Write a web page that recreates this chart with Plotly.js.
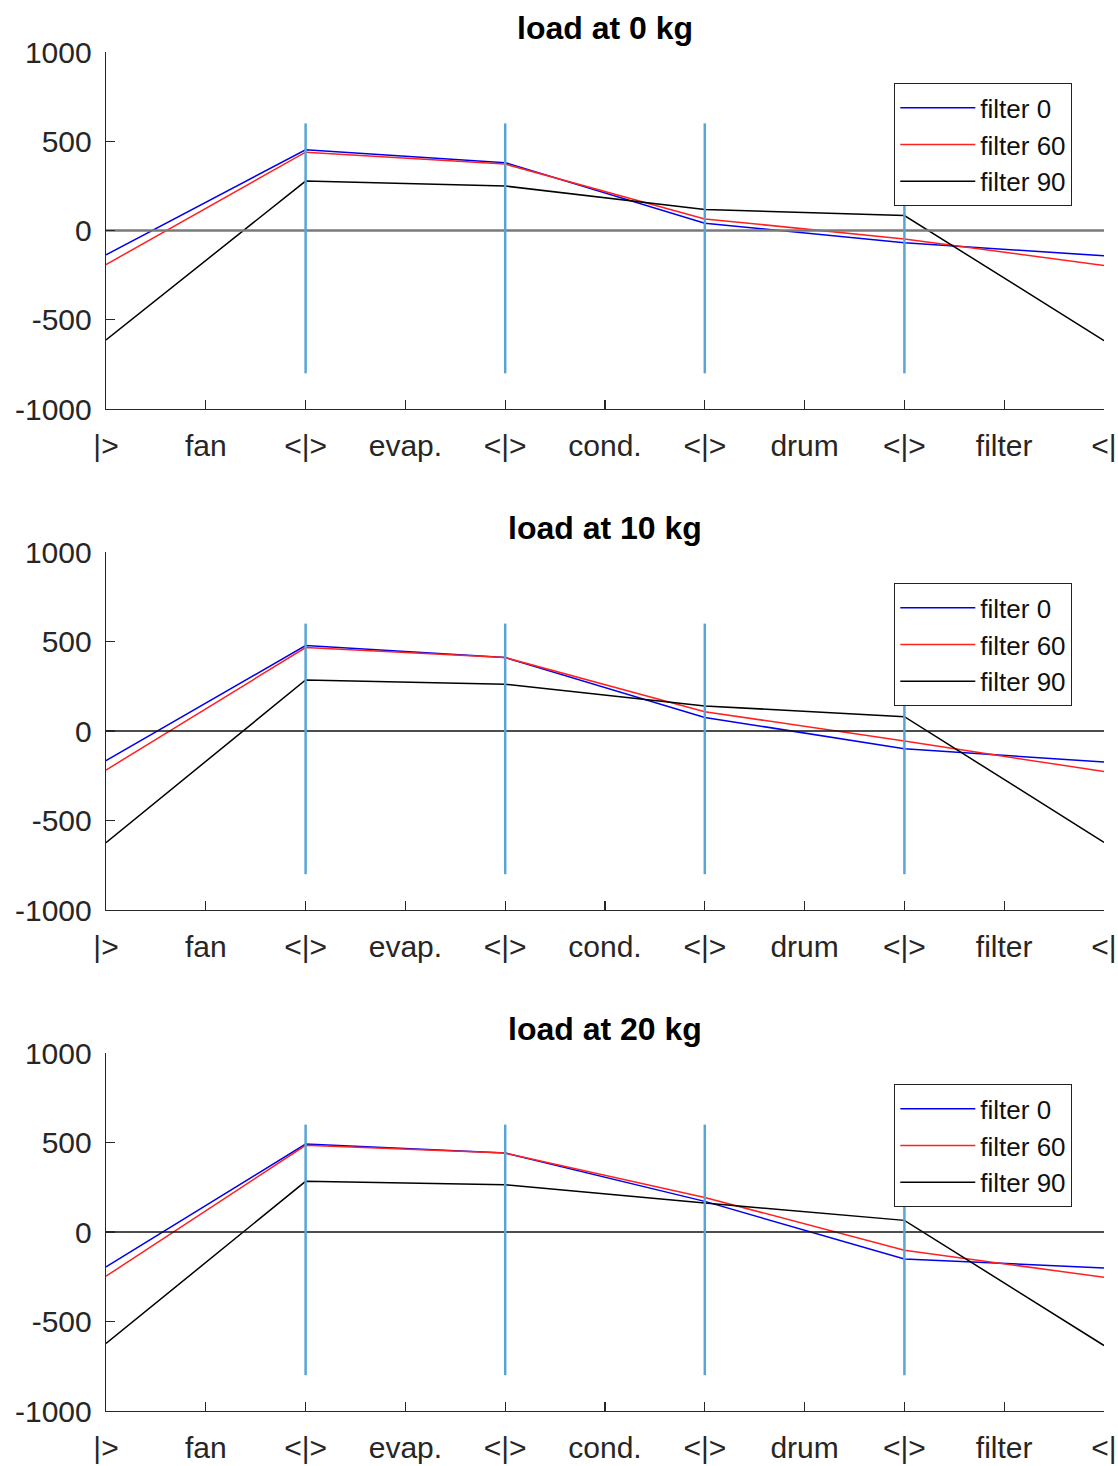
<!DOCTYPE html>
<html>
<head>
<meta charset="utf-8">
<script src="https://cdn.plot.ly/plotly-3.0.1.min.js"></script>
<style>
html,body{margin:0;padding:0;background:#fff;}
#chart{width:1118px;height:1466px;}
</style>
</head>
<body>
<div id="chart"></div>
<script>
// ---- data ----
const xTickValues = [0, 1, 2, 3, 4, 5, 6, 7, 8, 9, 10];
const xTickLabels = ['|>', 'fan', '<|>', 'evap.', '<|>', 'cond.', '<|>', 'drum', '<|>', 'filter', '<|'];
const junctionX = [0, 2, 4, 6, 8, 10];
const separatorX = [2, 4, 6, 8];
const separatorSpan = [-800, 600];
const panelTitles = ['load at 0 kg', 'load at 10 kg', 'load at 20 kg'];
const seriesNames = ['filter 0', 'filter 60', 'filter 90'];

const load0_filter0  = [-136, 452, 380, 41, -69, -142];
const load0_filter60 = [-191, 439, 372, 65, -47, -196];
const load0_filter90 = [-613, 277, 249, 118, 84, -617];

const load10_filter0  = [-166, 477, 410, 76, -99, -173];
const load10_filter60 = [-218, 466, 410, 108, -56, -227];
const load10_filter90 = [-624, 285, 261, 140, 80, -622];

const load20_filter0  = [-195, 491, 441, 171, -151, -201];
const load20_filter60 = [-247, 484, 441, 193, -102, -253];
const load20_filter90 = [-623, 283, 264, 162, 65, -634];

// ---- build ----
const panels = [
  [load0_filter0, load0_filter60, load0_filter90],
  [load10_filter0, load10_filter60, load10_filter90],
  [load20_filter0, load20_filter60, load20_filter90]
];
const seriesColors = ['#0000ee', '#ff2020', '#000000'];
const W = 1118, H = 1466;
const plotLeft = 106, plotRight = 1104;
const plotTops = [52, 552, 1053], plotBottoms = [409, 910, 1411];
const axisColor = '#262626';
const fontFam = '"Liberation Sans", Arial, Helvetica, sans-serif';

const traces = [];
const layout = {
  width: W, height: H,
  margin: {l: 0, r: 0, t: 0, b: 0},
  paper_bgcolor: '#fff', plot_bgcolor: '#fff',
  font: {family: fontFam, color: axisColor},
  annotations: [],
  showlegend: true
};

panels.forEach((series, p) => {
  const sfx = p === 0 ? '' : String(p + 1);
  const xa = 'x' + sfx, ya = 'y' + sfx;
  const lg = 'legend' + sfx;

  series.forEach((vals, s) => {
    traces.push({
      type: 'scatter', mode: 'lines', x: junctionX, y: vals,
      name: seriesNames[s], xaxis: xa, yaxis: ya, legend: lg,
      line: {color: seriesColors[s], width: 1.5}, hoverinfo: 'skip'
    });
  });
  // zero reference line
  traces.push({
    type: 'scatter', mode: 'lines', x: [xTickValues[0], xTickValues[xTickValues.length - 1]], y: [0, 0],
    xaxis: xa, yaxis: ya, showlegend: false, hoverinfo: 'skip',
    line: {color: p === 0 ? '#7a7a7a' : '#111', width: p === 0 ? 2.5 : 1.5}
  });
  // separators
  const sx = [], sy = [];
  separatorX.forEach(v => { sx.push(v, v, null); sy.push(separatorSpan[0], separatorSpan[1], null); });
  traces.push({
    type: 'scatter', mode: 'lines', x: sx, y: sy, xaxis: xa, yaxis: ya,
    showlegend: false, hoverinfo: 'skip', line: {color: '#57a5d6', width: 2.5}
  });

  const yDom = [1 - plotBottoms[p] / H, 1 - plotTops[p] / H];
  const xDom = [plotLeft / W, plotRight / W];
  layout['xaxis' + sfx] = {
    domain: xDom, anchor: ya, range: [0, 10],
    tickmode: 'array', tickvals: xTickValues, ticktext: xTickLabels,
    ticks: 'inside', ticklen: 9, tickwidth: 1.2, tickcolor: axisColor,
    showline: true, linecolor: axisColor, linewidth: 1.3,
    showgrid: false, zeroline: false, fixedrange: true,
    tickfont: {size: 30, family: fontFam, color: axisColor},
    ticklabelstandoff: 10
  };
  layout['yaxis' + sfx] = {
    domain: yDom, anchor: xa, range: [-1000, 1000],
    tickmode: 'array', tickvals: [-1000, -500, 0, 500, 1000],
    ticktext: ['-1000', '-500', '0', '500', '1000'],
    ticks: 'inside', ticklen: 9, tickwidth: 1.2, tickcolor: axisColor,
    showline: true, linecolor: axisColor, linewidth: 1.3,
    showgrid: false, zeroline: false, fixedrange: true,
    tickfont: {size: 30, family: fontFam, color: axisColor},
    ticklabelstandoff: 7
  };
  layout[lg] = {
    x: 1072 / W, xanchor: 'right',
    y: 1 - (plotTops[p] + 31) / H, yanchor: 'top',
    bgcolor: '#fff', bordercolor: '#222', borderwidth: 1.3,
    font: {size: 26, family: fontFam, color: '#111'},
    itemwidth: 75,
    tracegroupgap: 0
  };
  layout.annotations.push({
    xref: 'paper', yref: 'paper',
    x: (plotLeft + plotRight) / 2 / W, y: 1 - (plotTops[p] - 24) / H,
    xanchor: 'center', yanchor: 'middle', showarrow: false,
    text: '<b>' + panelTitles[p] + '</b>',
    font: {size: 32, family: fontFam, color: '#000'}
  });
});

Plotly.newPlot('chart', traces, layout, {staticPlot: true, displayModeBar: false});
</script>
</body>
</html>
